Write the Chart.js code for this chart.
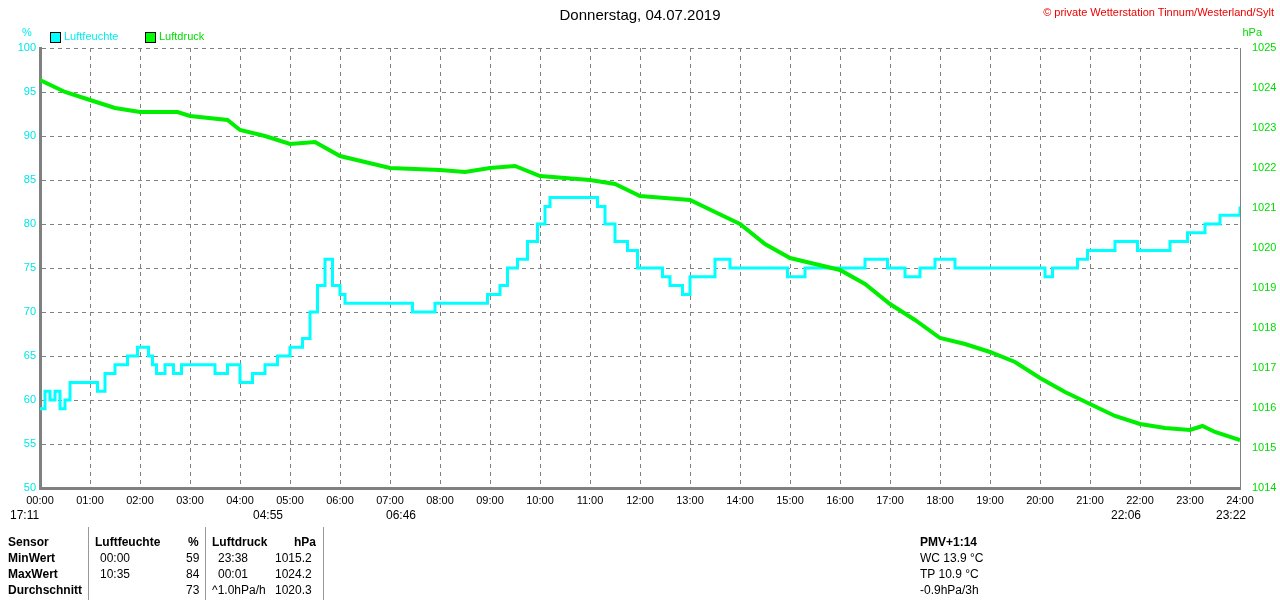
<!DOCTYPE html>
<html><head><meta charset="utf-8">
<script src="https://cdn.jsdelivr.net/npm/chart.js@4"></script>
<style>
body{margin:0;background:#fff;font-family:"Liberation Sans",Arial,sans-serif;font-size:12px;}
#wrap{position:relative;width:1280px;height:600px;}
canvas{position:absolute;left:0;top:0;}
.t{position:absolute;white-space:nowrap;}
.b{font-weight:bold;}
.vl{position:absolute;width:1px;background:#999;}
</style></head><body>
<div id="wrap">
<canvas id="c" width="1280" height="600"></canvas>
<div class="t" style="left:0;width:1280px;text-align:center;top:6px;font-size:15px;">Donnerstag, 04.07.2019</div>
<div class="t" style="right:6px;top:6px;color:#e00;font-size:11px;">© private Wetterstation Tinnum/Westerland/Sylt</div>
<div class="t" style="left:22px;top:26px;color:#0ee;font-size:11px;">%</div>
<div class="t" style="right:18px;top:26px;color:#0d0;font-size:11px;">hPa</div>
<div class="t" style="left:50px;top:32px;width:9px;height:9px;background:#0ff;border:1px solid #000;"></div>
<div class="t" style="left:64px;top:30px;color:#0ee;font-size:11px;">Luftfeuchte</div>
<div class="t" style="left:145px;top:32px;width:9px;height:9px;background:#0f0;border:1px solid #000;"></div>
<div class="t" style="left:159px;top:30px;color:#0d0;font-size:11px;">Luftdruck</div>
<div class="t" style="left:10px;top:508px;">17:11</div>
<div class="t" style="left:253px;top:508px;">04:55</div>
<div class="t" style="left:386px;top:508px;">06:46</div>
<div class="t" style="left:1111px;top:508px;">22:06</div>
<div class="t" style="left:1216px;top:508px;">23:22</div>
<div class="vl" style="left:88px;top:527px;height:73px;"></div>
<div class="vl" style="left:205px;top:527px;height:73px;"></div>
<div class="vl" style="left:323px;top:527px;height:73px;"></div>
<div class="t b" style="left:8px;top:535px;">Sensor</div>
<div class="t b" style="left:8px;top:551px;">MinWert</div>
<div class="t b" style="left:8px;top:567px;">MaxWert</div>
<div class="t b" style="left:8px;top:583px;">Durchschnitt</div>
<div class="t b" style="left:95px;top:535px;">Luftfeuchte</div>
<div class="t b" style="left:188px;top:535px;">%</div>
<div class="t" style="left:100px;top:551px;">00:00</div>
<div class="t" style="left:100px;top:567px;">10:35</div>
<div class="t" style="left:186px;top:551px;">59</div>
<div class="t" style="left:186px;top:567px;">84</div>
<div class="t" style="left:186px;top:583px;">73</div>
<div class="t b" style="left:212px;top:535px;">Luftdruck</div>
<div class="t b" style="left:294px;top:535px;">hPa</div>
<div class="t" style="left:218px;top:551px;">23:38</div>
<div class="t" style="left:218px;top:567px;">00:01</div>
<div class="t" style="left:212px;top:583px;">^1.0hPa/h</div>
<div class="t" style="left:275px;top:551px;">1015.2</div>
<div class="t" style="left:275px;top:567px;">1024.2</div>
<div class="t" style="left:275px;top:583px;">1020.3</div>
<div class="t b" style="left:920px;top:535px;">PMV+1:14</div>
<div class="t" style="left:920px;top:551px;">WC 13.9 °C</div>
<div class="t" style="left:920px;top:567px;">TP 10.9 °C</div>
<div class="t" style="left:920px;top:583px;">-0.9hPa/3h</div>
</div>
<script>
const humTimes=[0,0.1,0.2,0.3,0.4,0.5,0.6,1.0,1.15,1.3,1.5,1.75,1.95,2.17,2.25,2.33,2.5,2.67,2.83,3.17,3.5,3.67,3.75,4.0,4.25,4.5,4.75,5.0,5.25,5.4,5.55,5.7,5.85,6.0,6.1,7.33,7.45,7.9,8.95,9.2,9.35,9.55,9.75,9.95,10.1,10.2,10.8,11.15,11.3,11.5,11.75,11.95,12.45,12.6,12.85,13.0,13.5,13.8,14.95,15.3,16.5,16.95,17.3,17.6,17.9,18.3,20.1,20.25,20.75,20.95,21.5,21.95,22.6,22.95,23.3,23.6,24];
const humValues=[59,61,60,61,59,60,62,62,61,63,64,65,66,65,64,63,64,63,64,64,63,63,64,62,63,64,65,66,67,70,73,76,73,72,71,71,70,71,72,73,75,76,78,80,82,83,83,82,80,78,77,75,74,73,72,74,76,75,74,75,76,75,74,75,76,75,74,75,76,77,78,77,78,79,80,81,82,82];
const presTimes=[0,0.5,1,1.5,2,2.75,3,3.75,4,4.5,5,5.5,6,6.5,7,8,8.5,9,9.5,10,10.5,11,11.5,12,12.5,13,13.5,14,14.5,15,15.5,16,16.5,17,17.5,18,18.5,19,19.5,20,20.5,21,21.5,22,22.5,23,23.25,23.5,24];
const presValues=[1024.2,1023.9,1023.7,1023.5,1023.4,1023.4,1023.3,1023.2,1022.95,1022.8,1022.6,1022.65,1022.3,1022.15,1022.0,1021.95,1021.9,1022.0,1022.05,1021.8,1021.75,1021.7,1021.6,1021.3,1021.25,1021.2,1020.9,1020.6,1020.1,1019.75,1019.6,1019.45,1019.1,1018.6,1018.2,1017.75,1017.6,1017.4,1017.15,1016.75,1016.4,1016.1,1015.8,1015.6,1015.5,1015.45,1015.55,1015.4,1015.2];
const xTicks=[...Array(25).keys()].map(h=>String(h).padStart(2,'0')+':00');
const font={family:'"Liberation Sans", Arial, sans-serif',size:11};
const grid={color:'#808080',drawTicks:false};
new Chart(document.getElementById('c'),{
 type:'line',
 data:{datasets:[
  {label:'Luftdruck',data:presTimes.map((t,i)=>({x:t,y:presValues[i]})),yAxisID:'y2',borderColor:'#00ee00',borderWidth:4,pointRadius:0,tension:0},
  {label:'Luftfeuchte',data:humTimes.map((t,i)=>({x:t,y:humValues[i]})),yAxisID:'y',borderColor:'#00ffff',borderWidth:3,pointRadius:0,stepped:true}
 ]},
 options:{responsive:false,animation:false,
  layout:{padding:{top:48,left:0,right:0,bottom:0}},
  plugins:{legend:{display:false},tooltip:{enabled:false}},
  scales:{
   x:{type:'linear',min:0,max:24,afterFit:s=>{s.height=112;},
      ticks:{stepSize:1,color:'#000',font,padding:6,maxRotation:0,callback:v=>xTicks[v]},
      grid:{...grid},border:{color:'#808080',width:3,dash:[4,4]}},
   y:{position:'left',min:50,max:100,afterFit:s=>{s.width=40;},
      ticks:{stepSize:5,color:'#00e5e5',font,padding:4},grid:{...grid},border:{color:'#808080',width:3,dash:[4,4]}},
   y2:{position:'right',min:1014,max:1025,afterFit:s=>{s.width=40;},
      ticks:{stepSize:1,color:'#00dd00',font,padding:4,callback:v=>String(v)},grid:{display:false},border:{color:'#808080',width:1}}
  }
 }
});
</script>
</body></html>
